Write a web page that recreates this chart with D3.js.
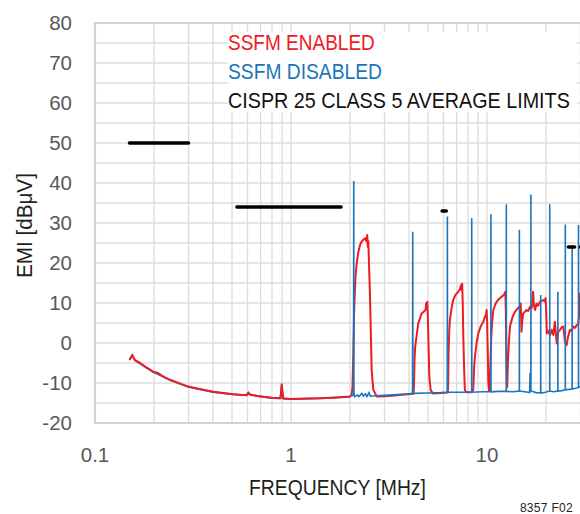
<!DOCTYPE html>
<html>
<head>
<meta charset="utf-8">
<script src="https://cdn.jsdelivr.net/npm/d3@7"></script>
<style>
  body { margin: 0; background: #fff; }
  svg { display: block; }
  text { font-family: 'Liberation Sans', Arial, Helvetica, sans-serif; }
</style>
</head>
<body>
<svg id="emi" width="580" height="514"></svg>
<script>
(function (d3) {
  'use strict';

  // axis ticks
  const xTickLabels = [0.1, 1, 10];
  const yTickLabels = [-20, -10, 0, 10, 20, 30, 40, 50, 60, 70, 80];

  // legend
  const legendLabels = ['SSFM ENABLED', 'SSFM DISABLED', 'CISPR 25 CLASS 5 AVERAGE LIMITS'];
  const legendColors = ['#ed1c24', '#1b75bc', '#111111'];
  const legendWidths = [147, 154, 342];

  // CISPR 25 class 5 average limits: [start MHz, end MHz, dBuV]
  const limitSegments = [
    [0.15, 0.3, 50],
    [0.53, 1.8, 34],
    [5.9, 6.2, 33],
    [26, 28, 24],
    [30, 54, 24]
  ];

  // SSFM enabled [MHz, dBuV]
  const enabledData = [
    [0.150, -4.2], [0.153, -3.5], [0.155, -3.0], [0.157, -3.6], [0.160, -4.3], [0.170, -5.0],
    [0.180, -5.9], [0.190, -6.6], [0.198, -7.2], [0.210, -7.5], [0.220, -8.2], [0.241, -9.2],
    [0.270, -10.1], [0.299, -10.9], [0.340, -11.5], [0.401, -12.2], [0.450, -12.5], [0.508, -12.8],
    [0.560, -13.0], [0.595, -13.0], [0.606, -12.4], [0.618, -12.9], [0.695, -13.4], [0.797, -13.7],
    [0.880, -13.8], [0.890, -12.5], [0.897, -10.3], [0.905, -12.5], [0.915, -13.9], [0.989, -14.0],
    [1.20, -13.9], [1.41, -13.8], [1.70, -13.6], [2.00, -13.4], [2.04, -12.8],
    [2.06, -10.9], [2.08, -2], [2.10, 8], [2.13, 16], [2.16, 19.5], [2.20, 22.4], [2.25, 24.5],
    [2.29, 25.3], [2.34, 25.8], [2.39, 26.2], [2.42, 25.5], [2.45, 27.0], [2.465, 24.0], [2.48, 25.5],
    [2.50, 20], [2.53, 11.6], [2.58, -6.8], [2.63, -11.7], [2.74, -13.4],
    [3.0, -13.3], [3.4, -13.1], [3.8, -12.9], [4.22, -12.7],
    [4.24, -10.9], [4.27, -4], [4.30, -1], [4.34, 0.5], [4.46, 4.9], [4.64, 7.4], [4.80, 8.0],
    [4.86, 8.3], [4.89, 9.9], [4.92, 8.5], [4.96, 10.3], [4.99, 7], [5.02, 1.6], [5.08, -8.4],
    [5.16, -11.8], [5.3, -12.6], [5.8, -12.5], [6.31, -12.4],
    [6.34, -10], [6.37, -2], [6.42, 3], [6.47, 5.8], [6.60, 8.8], [6.73, 10.8], [6.90, 12.0],
    [7.13, 12.8], [7.28, 13.5], [7.38, 14.5], [7.42, 13.2], [7.47, 14.8], [7.52, 10], [7.57, 1.6],
    [7.64, -6], [7.71, -11.8], [7.85, -12.3], [8.40, -12.3],
    [8.51, -11.7], [8.60, -6], [8.68, -3.4], [8.85, 0], [9.03, 2.4], [9.3, 4.2], [9.58, 5.3],
    [9.77, 6.6], [9.88, 7.0], [9.96, 8.25], [10.02, 5], [10.10, -3], [10.16, -10], [10.25, -12],
    [10.32, -11.5], [10.40, -6], [10.5, 1], [10.62, 5], [10.77, 8.25], [11.0, 9.5], [11.2, 10.3],
    [11.5, 11.0], [11.9, 11.6], [12.2, 12.0], [12.4, 12.8], [12.48, 8], [12.56, -4], [12.62, -10],
    [12.68, -11], [12.78, -5], [12.95, 0.5], [13.1, 4.1], [13.5, 6.5], [13.9, 7.8], [14.3, 8.6],
    [14.7, 9.1], [14.85, 9.9], [14.95, 6], [15.0, 2.8], [15.1, 5], [15.3, 7.4], [15.6, 7.8],
    [15.9, 8.25], [16.2, 8.0], [16.6, 9.1], [16.9, 8.7], [17.1, 11], [17.2, 12.8], [17.35, 9.5],
    [17.6, 8.25], [17.9, 9.9], [18.2, 9.3], [18.6, 10.3], [19.0, 10.5], [19.4, 10.75], [19.7, 10.4],
    [19.9, 11.2], [20.05, 8], [20.2, 2.4], [20.5, 3.0], [21.0, 2.0], [21.4, 3.3], [21.8, 2.0],
    [22.2, 5.3], [22.45, 2.5], [22.7, -0.1], [23.1, 2.8], [23.6, 3.3], [24.1, 4.0], [24.5, 4.1],
    [24.8, 2], [25.0, 0.3], [25.5, -0.5], [25.9, 1.5], [26.5, 3.3], [27.0, 3.0], [27.6, 4.1],
    [28.2, 3.8], [28.7, 4.5], [29.2, 4.6], [29.5, 7], [29.8, 12.4], [30, 11.5]
  ];

  // SSFM disabled, below 2MHz (sits under the red trace)
  const disabledLow = [
    [0.150, -4.4], [0.155, -3.2], [0.160, -4.5], [0.198, -7.4], [0.241, -9.4], [0.299, -11.1],
    [0.401, -12.4], [0.508, -13.0], [0.595, -13.2], [0.606, -12.6], [0.620, -13.1], [0.797, -13.9],
    [0.885, -14.0], [0.897, -10.6], [0.910, -14.0], [1.0, -14.2], [1.41, -14.0], [2.00, -13.6]
  ];

  // SSFM disabled, 2MHz and up (fundamental and harmonics)
  const disabledHigh = [
    [2.00, -13.4], [2.06, -13.1], [2.085, -12.8], [2.09, 40.5], [2.095, -12.5], [2.11, -13.4],
    [2.18, -13.0], [2.22, -13.4], [2.30, -12.6], [2.34, -13.3], [2.40, -12.7], [2.44, -13.4],
    [2.50, -12.4], [2.54, -13.3], [2.7, -13.2], [3.0, -13.1], [3.5, -12.9], [4.0, -12.7],
    [4.17, -12.6], [4.18, 27.8], [4.19, -12.6], [5.0, -12.5], [5.8, -12.4],
    [6.27, -12.3], [6.28, 31.6], [6.29, -12.3], [7.3, -12.3],
    [8.35, -12.3], [8.36, 31.2], [8.37, -12.3], [9.5, -12.2],
    [10.46, -12.2], [10.47, 32.2], [10.48, -12.2], [11.5, -12.1],
    [12.54, -12.1], [12.55, 34.7], [12.56, -12.1], [13.6, -12.2],
    [14.62, -12.0], [14.63, 28.3], [14.64, -12.0], [15.6, -12.2], [16.5, -12.4],
    [16.6, -7.5], [16.65, -12.0], [16.74, -12.0], [16.75, 37.1], [16.76, -12.0], [17.8, -12.4],
    [18.79, -12.5], [18.8, 12.0], [18.81, -12.5], [19.9, -12.3],
    [20.89, -12.0], [20.9, 34.7], [20.91, -12.0], [21.9, -12.2],
    [22.99, -12.0], [23.0, 12.8], [23.01, -12.0], [24.1, -11.9],
    [25.09, -11.7], [25.1, 29.6], [25.11, -11.7], [26.2, -11.6],
    [27.19, -11.5], [27.2, 24.5], [27.21, -11.5], [28.3, -11.3],
    [29.29, -11.1], [29.3, 29.5], [29.31, -11.0], [30, -10.9]
  ];

  const svg = d3.select('svg#emi');
  const margin = { left: 95, top: 23, right: 580.5, bottom: 423 };

  const xScale = d3.scaleLog()
    .domain([0.1, 30])
    .range([margin.left, margin.right]);

  const yScale = d3.scaleLinear()
    .domain([-20, 80])
    .range([margin.bottom, margin.top]);

  svg.append('defs').append('clipPath')
      .attr('id', 'plot-clip')
    .append('rect')
      .attr('x', margin.left)
      .attr('y', margin.top)
      .attr('width', margin.right - margin.left)
      .attr('height', margin.bottom - margin.top);

  // squeeze a text horizontally to the width it has in the figure
  const fitWidth = (sel, width) => {
    sel.each(function (d, i) {
      const w = typeof width === 'function' ? width(d, i) : width;
      const natural = this.getComputedTextLength();
      const k = w / natural;
      const t = d3.select(this);
      t.attr('transform', `${t.attr('data-pos')} scale(${k},1)`);
    });
  };

  //grid
  const xGrid = [];
  [0.1, 1, 10].forEach(dec => {
    for (let k = 1; k <= 9; k++) {
      if (dec * k <= 30) xGrid.push(dec * k);
    }
  });
  const yGrid = d3.range(-20, 81, 5);

  const gridG = svg.append('g').attr('class', 'grid');
  gridG.selectAll('.vgrid').data(xGrid)
    .enter().append('line')
      .attr('class', 'vgrid')
      .attr('x1', d => xScale(d))
      .attr('x2', d => xScale(d))
      .attr('y1', margin.top)
      .attr('y2', margin.bottom)
      .attr('stroke', '#dcdcdc')
      .attr('stroke-width', 1.3);
  gridG.selectAll('.hgrid').data(yGrid)
    .enter().append('line')
      .attr('class', 'hgrid')
      .attr('x1', margin.left)
      .attr('x2', 580)
      .attr('y1', d => yScale(d))
      .attr('y2', d => yScale(d))
      .attr('stroke', '#dcdcdc')
      .attr('stroke-width', 1.3);

  //frame
  svg.append('path')
    .attr('d', `M580,${margin.top}H${margin.left}V${margin.bottom}H580`)
    .attr('fill', 'none')
    .attr('stroke', '#d2d2d2')
    .attr('stroke-width', 2.2);

  //legend background
  svg.append('rect')
    .attr('x', 228)
    .attr('y', 32)
    .attr('width', 349)
    .attr('height', 80)
    .attr('fill', '#fff');

  //traces
  const lineGen = d3.line()
    .x(d => xScale(d[0]))
    .y(d => yScale(d[1]));

  const plotG = svg.append('g').attr('clip-path', 'url(#plot-clip)');

  plotG.append('path')
    .attr('d', lineGen(disabledLow))
    .attr('fill', 'none')
    .attr('stroke', legendColors[1])
    .attr('stroke-width', 1.8)
    .attr('transform', 'translate(0,-0.6)');

  plotG.append('path')
    .attr('d', lineGen(enabledData))
    .attr('fill', 'none')
    .attr('stroke', legendColors[0])
    .attr('stroke-width', 2)
    .attr('stroke-linejoin', 'round');

  plotG.append('path')
    .attr('d', lineGen(disabledHigh))
    .attr('fill', 'none')
    .attr('stroke', legendColors[1])
    .attr('stroke-width', 1.6)
    .attr('stroke-linejoin', 'miter');

  //limits
  plotG.selectAll('.limit').data(limitSegments)
    .enter().append('line')
      .attr('class', 'limit')
      .attr('x1', d => xScale(d[0]))
      .attr('x2', d => xScale(d[1]))
      .attr('y1', d => yScale(d[2]))
      .attr('y2', d => yScale(d[2]))
      .attr('stroke', '#000')
      .attr('stroke-width', 3.5)
      .attr('stroke-linecap', 'round');

  //axes tick labels
  svg.append('g').selectAll('text').data(yTickLabels)
    .enter().append('text')
      .attr('x', 72)
      .attr('y', d => yScale(d))
      .attr('dy', '0.36em')
      .attr('text-anchor', 'end')
      .attr('fill', '#595959')
      .attr('font-size', 20.5)
      .text(d => d);

  svg.append('g').selectAll('text').data(xTickLabels)
    .enter().append('text')
      .attr('x', d => xScale(d))
      .attr('y', 462)
      .attr('text-anchor', 'middle')
      .attr('fill', '#595959')
      .attr('font-size', 20.5)
      .text(d => d);

  //axis titles
  svg.append('text')
    .attr('data-pos', 'translate(249,495)')
    .attr('fill', '#231f20')
    .attr('font-size', 22)
    .text('FREQUENCY [MHz]')
    .call(fitWidth, 177);

  svg.append('text')
    .attr('data-pos', 'translate(32,278) rotate(-90)')
    .attr('fill', '#231f20')
    .attr('font-size', 22)
    .text('EMI [dBμV]')
    .call(fitWidth, 105);

  //legend
  svg.append('g').selectAll('text').data(legendLabels)
    .enter().append('text')
      .attr('data-pos', (d, i) => `translate(228,${50 + i * 29})`)
      .attr('fill', (d, i) => legendColors[i])
      .attr('font-size', 22)
      .text(d => d)
      .call(fitWidth, (d, i) => legendWidths[i]);

  svg.append('text')
    .attr('x', 573)
    .attr('y', 512)
    .attr('text-anchor', 'end')
    .attr('fill', '#231f20')
    .attr('font-size', 12)
    .attr('letter-spacing', 0.3)
    .text('8357 F02');

}(d3));
</script>
</body>
</html>
